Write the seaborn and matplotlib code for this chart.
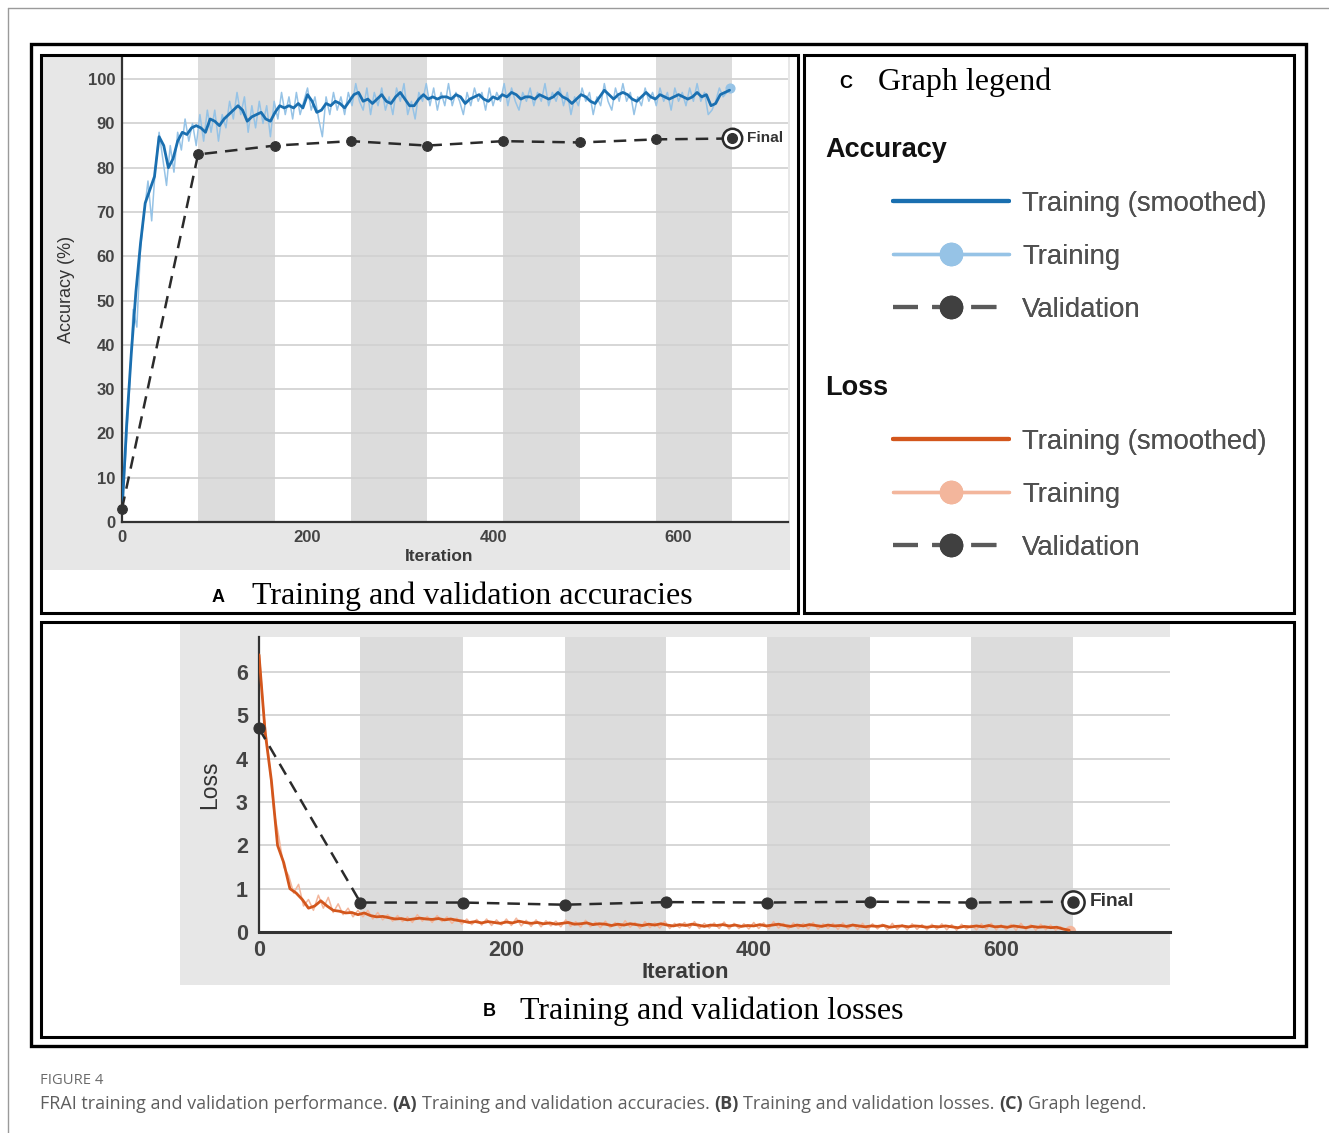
import numpy as np
import matplotlib
matplotlib.use("Agg")
import matplotlib.pyplot as plt
from matplotlib.patches import Rectangle
from matplotlib.lines import Line2D
import seaborn as sns

# ---- data ----
acc_smooth = [
    2, 22, 38, 52, 63, 72, 75, 78, 87, 85,
    80, 82, 86, 88, 87.5, 89, 89.5, 89, 88, 91,
    90.5, 89.5, 91, 92, 93, 94, 93, 90.5, 91.5, 92,
    92.5, 91, 90.5, 92.5, 94, 93.5, 94, 93.5, 94.5, 93.5,
    96.5, 95, 92.5, 93, 94.5, 94, 95, 94.5, 93.5, 95,
    96.5, 97, 95, 95.5, 94.5, 95.5, 96.5, 95, 94.5, 96,
    97, 95.5, 94, 94, 95.5, 96.5, 95.5, 96, 95.5, 96,
    96, 95.5, 96.5, 96, 94.5, 95.5, 96, 96.5, 95.5, 95,
    96, 95.5, 96.5, 96, 97, 96.5, 95.5, 96, 96, 95.5,
    96.5, 96, 95.5, 96, 97, 96, 95.5, 94.5, 95.5, 96.5,
    96, 95, 94.5, 96, 97.5, 96.5, 95.5, 96.5, 97, 96.5,
    95.5, 95, 96, 97, 96, 95.5, 96.5, 96, 95.5, 96,
    96.5, 96, 95.5, 96, 97, 96, 96.5, 94, 94.5, 96.5,
    97, 97.5,
]
acc_raw = [
    3, 15, 30, 48, 44, 62, 70, 77, 68, 80,
    88, 82, 76, 85, 79, 88, 84, 91, 86, 90,
    85, 92, 86, 93, 88, 93, 86, 92, 89, 95,
    91, 97, 92, 96, 88, 94, 89, 95, 90, 94,
    87, 95, 91, 97, 92, 96, 91, 97, 92, 95,
    98, 93, 96, 91, 87, 96, 92, 97, 93, 96,
    92, 97, 94, 99, 95, 93, 98, 92, 97, 94,
    98, 93, 96, 92, 98, 95, 99, 92, 95, 91,
    97, 95, 99, 94, 98, 93, 97, 94, 99, 94,
    97, 95, 92, 97, 94, 98, 95, 97, 93, 98,
    94, 97, 95, 99, 94, 98, 95, 93, 97, 95,
    98, 94, 97, 95, 99, 94, 97, 95, 98, 94,
    97, 92, 96, 94, 98, 95, 97, 92, 96, 94,
    99, 95, 93, 98, 95, 99, 95, 97, 92, 96,
    94, 98, 95, 97, 94, 98, 95, 97, 93, 98,
    95, 97, 94, 98, 95, 99, 95, 97, 92, 93,
    95, 98, 96, 97, 98,
]
loss_smooth = [
    6.4, 4.6, 3.5, 2.0, 1.6, 1.0, 0.9, 0.75, 0.55, 0.6,
    0.72, 0.6, 0.5, 0.48, 0.44, 0.45, 0.40, 0.44, 0.38, 0.35,
    0.36, 0.33, 0.30, 0.31, 0.28, 0.30, 0.32, 0.30, 0.29, 0.31,
    0.28, 0.30, 0.27, 0.25, 0.22, 0.24, 0.21, 0.24, 0.22, 0.20,
    0.23, 0.21, 0.25, 0.22, 0.20, 0.22, 0.19, 0.21, 0.18, 0.20,
    0.22, 0.18, 0.19, 0.21, 0.17, 0.19, 0.18, 0.15, 0.18, 0.16,
    0.19, 0.17, 0.15, 0.18, 0.16, 0.19, 0.16, 0.14, 0.17, 0.15,
    0.18, 0.16, 0.13, 0.16, 0.15, 0.17, 0.14, 0.16, 0.13, 0.15,
    0.14, 0.17, 0.14, 0.16, 0.18, 0.15, 0.13, 0.16, 0.14, 0.17,
    0.15, 0.13, 0.16, 0.14, 0.15, 0.13, 0.16, 0.14, 0.12, 0.14,
    0.13, 0.15, 0.11, 0.13, 0.14, 0.12, 0.14, 0.13, 0.11, 0.13,
    0.12, 0.14, 0.12, 0.10, 0.13, 0.12, 0.14, 0.12, 0.15, 0.12,
    0.13, 0.11, 0.14, 0.12, 0.10, 0.13, 0.11, 0.12, 0.10, 0.11,
    0.07, 0.04,
]
loss_raw = [
    6.5, 5.0, 4.0, 2.8, 2.2, 1.5, 1.3, 0.9, 1.1, 0.6,
    0.75, 0.5, 0.85, 0.55, 0.8, 0.45, 0.65, 0.4, 0.55, 0.35,
    0.5, 0.35, 0.5, 0.3, 0.45, 0.28, 0.4, 0.25, 0.38, 0.24,
    0.35, 0.22, 0.4, 0.25, 0.36, 0.22, 0.38, 0.24, 0.35, 0.2,
    0.32, 0.18, 0.3, 0.17, 0.29, 0.16, 0.3, 0.15, 0.28, 0.16,
    0.3, 0.15, 0.32, 0.14, 0.27, 0.13, 0.28, 0.12, 0.26, 0.14,
    0.25, 0.12, 0.28, 0.13, 0.24, 0.11, 0.27, 0.12, 0.23, 0.1,
    0.25, 0.1, 0.22, 0.09, 0.26, 0.11, 0.22, 0.08, 0.24, 0.1,
    0.21, 0.09, 0.25, 0.08, 0.2, 0.1, 0.22, 0.09, 0.24, 0.08,
    0.2, 0.09, 0.21, 0.08, 0.23, 0.07, 0.2, 0.08, 0.19, 0.07,
    0.22, 0.08, 0.21, 0.07, 0.24, 0.09, 0.2, 0.07, 0.21, 0.08,
    0.2, 0.07, 0.22, 0.06, 0.19, 0.08, 0.2, 0.06, 0.21, 0.07,
    0.18, 0.06, 0.2, 0.05, 0.19, 0.07, 0.18, 0.05, 0.2, 0.06,
    0.17, 0.05, 0.19, 0.06, 0.17, 0.05, 0.18, 0.06, 0.19, 0.05,
    0.17, 0.04, 0.18, 0.06, 0.16, 0.05, 0.19, 0.06, 0.2, 0.05,
    0.17, 0.05, 0.18, 0.04, 0.2, 0.05, 0.17, 0.04, 0.18, 0.05,
    0.16, 0.04, 0.12, 0.03, 0.02,
]
val_iters = [0, 82, 165, 247, 329, 411, 494, 576, 658]
val_acc = [3.0, 83.0, 85.0, 86.0, 85.0, 86.0, 85.7, 86.4, 86.6]
val_loss = [4.7, 0.68, 0.68, 0.63, 0.69, 0.68, 0.70, 0.68, 0.70]
smooth_step = 5
raw_step = 4
acc_yticks = list(range(0, 101, 10))
loss_yticks = [0, 1, 2, 3, 4, 5, 6]
iter_ticks = [0, 200, 400, 600]

W, H = 1329, 1133
BLUE, LBLUE = "#1a6fb0", "#96c3e6"
ORANGE, LORANGE = "#d3561c", "#f3b69c"
DARK = "#2b2b2b"

sns.set_theme(style="white")
plt.rcParams["font.family"] = ["Liberation Sans", "DejaVu Sans"]


def rect(l, t, r, b):
    return [l / W, 1 - b / H, (r - l) / W, (b - t) / H]


def fig_box(fig, l, t, r, b, **kw):
    fig.add_artist(Rectangle((l / W, 1 - b / H), (r - l) / W, (b - t) / H,
                             transform=fig.transFigure, **kw))


def draw_panel(ax, smooth, raw, val, c_s, c_r, xmax, ymax, yticks, fs, ms, ring):
    xs = np.arange(len(smooth)) * smooth_step
    xr = np.arange(len(raw)) * raw_step
    ax.set_xlim(0, xmax)
    ax.set_ylim(0, ymax)
    ax.set_axisbelow("line")
    # epoch shading on every second epoch
    for i in range(1, len(val_iters) - 1, 2):
        ax.axvspan(val_iters[i], val_iters[i + 1], color="#dcdcdc", lw=0, zorder=0.5)
    sns.lineplot(x=xr, y=raw, ax=ax, color=c_r, lw=1.1, zorder=2)
    ax.plot(xr[-1], raw[-1], "o", color=c_r, ms=ms * 0.9, zorder=2)
    sns.lineplot(x=xs, y=smooth, ax=ax, color=c_s, lw=2.0, zorder=3)
    sns.lineplot(x=val_iters, y=val, ax=ax, color=DARK, lw=1.8,
                 linestyle=(0, (5, 3.2)), marker="o", markersize=ms,
                 markerfacecolor="#333333", markeredgecolor="#333333",
                 clip_on=False, zorder=4)
    ax.plot(val_iters[-1], val[-1], "o", ms=ring, mfc="white", mec=DARK, mew=1.8, zorder=5)
    ax.plot(val_iters[-1], val[-1], "o", ms=ms, color="#333333", zorder=6)
    ax.annotate("Final", (val_iters[-1], val[-1]), xytext=(ring * 0.75, 0),
                textcoords="offset points", va="center", ha="left",
                fontsize=fs * 0.92, fontweight="bold", color="#333333")
    ax.set_yticks(yticks)
    ax.set_xticks(iter_ticks)
    ax.yaxis.grid(True, color="#d0d0d0", lw=1.2)
    ax.xaxis.grid(False)
    for s in ["top", "right"]:
        ax.spines[s].set_visible(False)
    for s in ["left", "bottom"]:
        ax.spines[s].set_color("#333333")
        ax.spines[s].set_linewidth(1.6)
    ax.set_facecolor("white")
    for lbl in ax.get_xticklabels() + ax.get_yticklabels():
        lbl.set_fontweight("bold")


fig = plt.figure(figsize=(W / 100, H / 100), dpi=100)

# page rule and framing boxes
fig.add_artist(Line2D([8 / W, 8 / W], [0, 1 - 8 / H], transform=fig.transFigure, color="#9a9a9a", lw=1))
fig.add_artist(Line2D([8 / W, 1], [1 - 8 / H, 1 - 8 / H], transform=fig.transFigure, color="#9a9a9a", lw=1))
fig_box(fig, 31, 44, 1306, 1046, fill=False, ec="black", lw=2.4, zorder=10)
fig_box(fig, 41, 55, 798, 613, fill=False, ec="black", lw=2.2, zorder=10)
fig_box(fig, 804, 55, 1294, 613, fill=False, ec="black", lw=2.2, zorder=10)
fig_box(fig, 41, 622, 1294, 1037, fill=False, ec="black", lw=2.2, zorder=10)

# grey figure backgrounds behind the two plots
fig_box(fig, 43, 57, 790, 570, fc="#e7e7e7", ec="none", zorder=-1)
fig_box(fig, 180, 623, 1170, 985, fc="#e7e7e7", ec="none", zorder=-1)

# ---- A: accuracy ----
ax_a = fig.add_axes(rect(122, 57, 788, 522))
draw_panel(ax_a, acc_smooth, acc_raw, val_acc, BLUE, LBLUE, 718, 105,
           acc_yticks, 12, 7, 14)
ax_a.tick_params(axis="y", direction="in", length=11, width=1.4, color="#333333",
                 pad=5, labelsize=12, labelcolor="#444444")
ax_a.tick_params(axis="x", direction="in", length=9, width=1.4, color="#333333",
                 pad=6, labelsize=12, labelcolor="#444444")
ax_a.set_xlabel("Iteration", fontsize=12.5, fontweight="bold", color="#3a3a3a")
ax_a.xaxis.set_label_coords(0.476, -0.058)
ax_a.set_ylabel("Accuracy (%)", fontsize=13, color="#333333")
ax_a.yaxis.set_label_coords(-0.07, 0.5)

# ---- B: loss ----
ax_b = fig.add_axes(rect(259, 637, 1170, 932))
draw_panel(ax_b, loss_smooth, loss_raw, val_loss, ORANGE, LORANGE, 736.5, 6.81,
           loss_yticks, 15, 8, 16)
ax_b.spines["bottom"].set_linewidth(2.2)
ax_b.tick_params(axis="y", direction="in", length=14, width=1.6, color="#333333",
                 pad=8, labelsize=15.5, labelcolor="#444444")
ax_b.tick_params(axis="x", direction="in", length=11, width=1.6, color="#333333",
                 pad=6, labelsize=15.5, labelcolor="#444444")
ax_b.set_xlabel("Iteration", fontsize=16, fontweight="bold", color="#3a3a3a")
ax_b.xaxis.set_label_coords(0.468, -0.10)
ax_b.set_ylabel("Loss", fontsize=16.5, color="#333333")
ax_b.yaxis.set_label_coords(-0.042, 0.5)

# ---- panel titles ----
serif = ["Liberation Serif", "DejaVu Serif"]
for letter, lx, title, tx, ty in [("A", 218, "Training and validation accuracies", 252, 596),
                                  ("B", 489, "Training and validation losses", 520, 1011),
                                  ("C", 846, "Graph legend", 878, 82)]:
    fig.text(lx / W, 1 - (ty + 1) / H, letter, fontsize=13, fontweight="bold",
             ha="center", va="center", color="black")
    fig.text(tx / W, 1 - ty / H, title, fontsize=23, family=serif,
             ha="left", va="center", color="black")

# ---- C: legend ----
leg_kw = dict(loc="upper left", frameon=False, fontsize=19.8, borderpad=0,
              borderaxespad=0, handlelength=4.2, handletextpad=0.5,
              labelspacing=0.98, labelcolor="#505050")
groups = [("Accuracy", 148, BLUE, LBLUE), ("Loss", 386, ORANGE, LORANGE)]
for head, hy, c_s, c_r in groups:
    fig.text(825 / W, 1 - (hy + 2) / H, head, fontsize=19.5, fontweight="bold",
             ha="left", va="center", color="#111111")
    handles = [
        Line2D([], [], color=c_s, lw=3),
        Line2D([], [], color=c_r, lw=2.4, marker="o", ms=16, mfc=c_r, mec=c_r),
        Line2D([], [], color="#5a5a5a", lw=3, dashes=(6, 3.4), marker="o",
               ms=16, mfc="#404040", mec="#404040"),
    ]
    leg = fig.legend(handles, ["Training (smoothed)", "Training", "Validation"],
                     bbox_to_anchor=(893 / W, 1 - (hy + 43) / H), **leg_kw)
    fig.add_artist(leg)

# ---- caption ----
cap = ["Open Sans", "DejaVu Sans"]
cap_fs = 13
fig.text(40 / W, 1 - 1080 / H, "FIGURE 4", fontsize=10.6, family=cap, color="#6a6a6a",
         va="center", ha="left")
renderer = fig.canvas.get_renderer()
pieces = [("FRAI training and validation performance.", "normal"), ("(A)", "bold"),
          ("Training and validation accuracies.", "normal"), ("(B)", "bold"),
          ("Training and validation losses.", "normal"), ("(C)", "bold"),
          ("Graph legend.", "normal")]
probe1 = fig.text(0, 0, "a a", fontsize=cap_fs, family=cap)
probe2 = fig.text(0, 0, "aa", fontsize=cap_fs, family=cap)
space = probe1.get_window_extent(renderer).width - probe2.get_window_extent(renderer).width
probe1.remove()
probe2.remove()
x = 40
for txt, wt in pieces:
    t = fig.text(x / W, 1 - 1104 / H, txt, fontsize=cap_fs, family=cap, fontweight=wt,
                 color="#444444" if wt == "bold" else "#5e5e5e", va="center", ha="left")
    x += t.get_window_extent(renderer).width + space

fig.savefig("out.png", dpi=100)
